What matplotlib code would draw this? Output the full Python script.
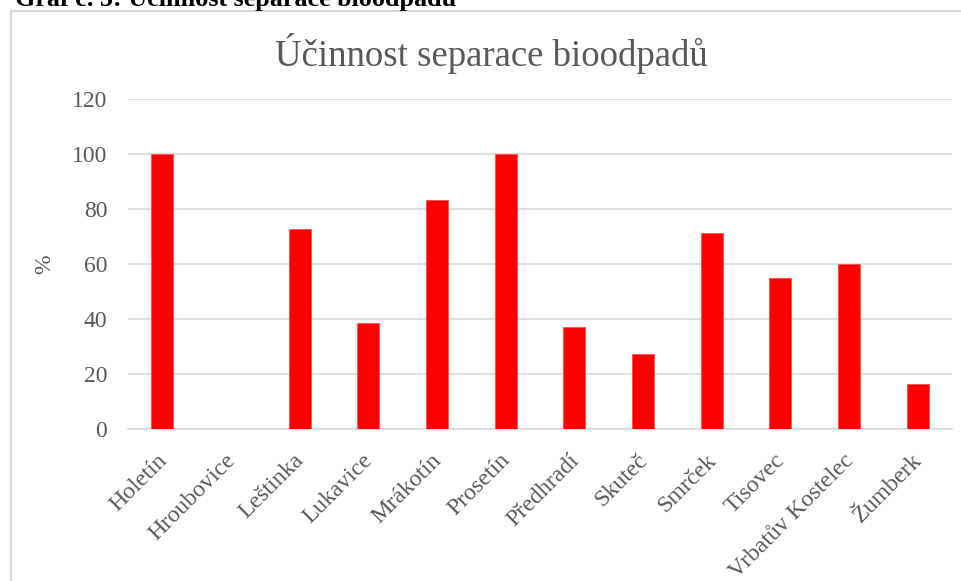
import matplotlib
matplotlib.use("Agg")
import matplotlib.pyplot as plt
from matplotlib.patches import Rectangle

categories = ["Holetín", "Hroubovice", "Leštinka", "Lukavice", "Mrákotín", "Prosetín",
              "Předhradí", "Skuteč", "Smrček", "Tisovec", "Vrbatův Kostelec", "Žumberk"]
values = [100, 0, 72.6, 38.5, 83.3, 100, 37.0, 27.3, 71.1, 54.9, 60.0, 16.5]
yticks = [0, 20, 40, 60, 80, 100, 120]

W, H = 962, 581
fig = plt.figure(figsize=(W / 100, H / 100), dpi=100)
fig.patch.set_facecolor("white")
plt.rcParams["font.family"] = ["Liberation Serif", "DejaVu Serif"]

# chart frame
fig.patches.append(Rectangle((11 / W, -0.05), (W + 10) / W, (H - 11) / H + 0.05,
                             transform=fig.transFigure, fill=False,
                             edgecolor="#d9d9d9", linewidth=1.5))

# cut-off caption on top
fig.text(15 / W, 1 - 6 / H, "Graf č. 5: Účinnost separace bioodpadů", fontsize=18.8,
         fontweight="bold", color="black", ha="left", va="baseline")

left, right, bottom, top = 128, 952, 429, 99
ax = fig.add_axes([left / W, 1 - bottom / H, (right - left) / W, (bottom - top) / H])
x = list(range(len(categories)))
ax.bar(x, values, width=0.32, color="#ff0000", edgecolor="#ff5050", linewidth=0.6, zorder=3)
ax.set_xlim(-0.5, len(categories) - 0.5)
ax.set_ylim(0, 120)
ax.set_yticks(yticks)
ax.set_yticklabels([str(t) for t in yticks], fontsize=17, color="#595959")
ax.yaxis.grid(True, color="#d9d9d9", linewidth=1.2, zorder=0)
# label anchors sit slightly left of bar centres (no tick marks are drawn)
ax.set_xticks([i - 0.09 for i in x])
ax.set_xticklabels(categories, fontsize=17.2, color="#595959", rotation=45,
                   ha="right", va="top", rotation_mode="anchor")
ax.tick_params(axis="both", length=0)
ax.tick_params(axis="y", pad=15)
ax.tick_params(axis="x", pad=15)
for s in ["top", "right", "left"]:
    ax.spines[s].set_visible(False)
ax.spines["bottom"].set_color("#d9d9d9")
ax.spines["bottom"].set_linewidth(1.2)
ax.set_ylabel("%", fontsize=17, color="#595959", labelpad=12)

fig.text(491 / W, 1 - 54 / H, "Účinnost separace bioodpadů",
         fontsize=26.5, color="#595959", ha="center", va="center")

fig.savefig("out.png", dpi=100)
